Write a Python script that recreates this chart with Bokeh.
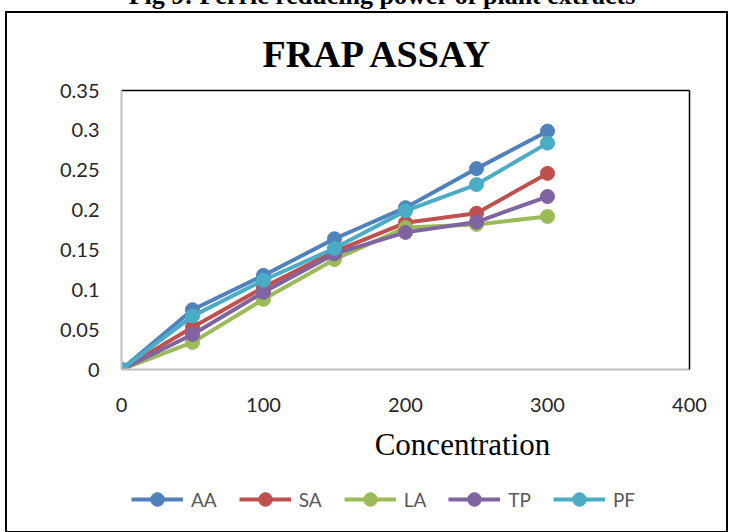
from bokeh.plotting import figure
from bokeh.models import (FixedTicker, CustomJSTickFormatter, Label,
                          Legend, LegendItem, Div, Range1d, LinearAxis)
from bokeh.layouts import column
from bokeh.embed import file_html
from bokeh.resources import INLINE

# ---- data ----
concentration = [0, 50, 100, 150, 200, 250, 300]
AA = [0, 0.075, 0.118, 0.164, 0.203, 0.252, 0.299]
SA = [0, 0.053, 0.103, 0.148, 0.184, 0.196, 0.246]
LA = [0, 0.034, 0.088, 0.138, 0.178, 0.182, 0.192]
TP = [0, 0.044, 0.097, 0.145, 0.172, 0.185, 0.217]
PF = [0, 0.067, 0.112, 0.152, 0.199, 0.232, 0.284]
series_names = ["AA", "SA", "LA", "TP", "PF"]
x_ticks = [0, 100, 200, 300, 400]
y_ticks = [0, 0.05, 0.1, 0.15, 0.2, 0.25, 0.3, 0.35]

chart_title = "FRAP ASSAY"
fig_caption = "Fig 9: Ferric reducing power of plant extracts"
x_label = "Concentration"
y_label = "Absorbance"

colors = {"AA": "#4F81BD", "SA": "#C0504D", "LA": "#9BBB59",
          "TP": "#8064A2", "PF": "#4BACC6"}
data = {"AA": AA, "SA": SA, "LA": LA, "TP": TP, "PF": PF}

SANS = "Lato"
SERIF = "Liberation Serif"
W, H = 719, 518

# ---------------- main chart ----------------
p = figure(width=W, height=H, output_backend="svg", toolbar_location=None,
           x_range=Range1d(0, 400), y_range=Range1d(0, 0.35),
           min_border_left=114, min_border_right=37,
           min_border_top=77, min_border_bottom=162)
p.styles = {"outline": "2px solid black", "margin-left": "7px"}
p.xgrid.visible = False
p.ygrid.visible = False
p.outline_line_color = None
p.background_fill_color = "white"
p.border_fill_color = "white"

for ax, ticks in ((p.xaxis[0], x_ticks), (p.yaxis[0], y_ticks)):
    ax.ticker = FixedTicker(ticks=ticks)
    ax.axis_line_color = "#BFBFBF"
    ax.axis_line_width = 2
    ax.major_tick_line_color = None
    ax.minor_tick_line_color = None
    ax.major_tick_out = 0
    ax.major_tick_in = 0
    ax.major_label_text_font = SANS
    ax.major_label_text_font_size = "20px"
    ax.major_label_text_color = "#262626"
p.xaxis[0].major_label_standoff = 28
p.yaxis[0].major_label_standoff = 22
p.yaxis[0].formatter = CustomJSTickFormatter(
    code="return String(parseFloat(tick.toFixed(2)));")

for loc in ("above", "right"):
    a = LinearAxis(ticker=FixedTicker(ticks=[]), axis_line_color="black",
                   axis_line_width=1.5, major_tick_line_color=None,
                   minor_tick_line_color=None, major_label_text_font_size="0px")
    p.add_layout(a, loc)

for name in series_names:
    c = colors[name]
    p.line(concentration, data[name], line_color=c, line_width=4)
    p.scatter(concentration, data[name], marker="circle", size=14,
              fill_color=c, line_color=c)

# ---------------- transparent overlay for titles + legend ----------------
# its view range lies away from the data, so its series only feed the legend
ov = figure(frame_width=W, frame_height=H, output_backend="svg",
            toolbar_location=None, x_axis_location=None, y_axis_location=None,
            min_border=0, min_border_left=0, min_border_right=0,
            min_border_top=0, min_border_bottom=0,
            x_range=Range1d(1000, 1001), y_range=Range1d(1000, 1001))
ov.styles = {"margin-left": "7px", "margin-top": f"-{H}px",
             "margin-bottom": "-8px"}
ov.xgrid.visible = False
ov.ygrid.visible = False
ov.outline_line_color = None
ov.background_fill_alpha = 0
ov.border_fill_alpha = 0

items = []
for name in series_names:
    c = colors[name]
    r1 = ov.line(concentration, data[name], line_color=c, line_width=4)
    r2 = ov.scatter(concentration, data[name], marker="circle", size=14,
                    fill_color=c, line_color=c)
    items.append(LegendItem(label=name, renderers=[r1, r2]))

legend = Legend(items=items, orientation="horizontal", location=(124, 15),
                glyph_width=52, glyph_height=34, label_height=34,
                label_standoff=8, spacing=22, padding=0, margin=0,
                border_line_color=None, background_fill_alpha=0,
                label_text_font=SANS, label_text_font_size="19px",
                label_text_color="#595959")
ov.add_layout(legend, "center")

ov.add_layout(Label(x=257, y=478, x_units="screen", y_units="screen",
                    text=chart_title, text_font=SERIF,
                    text_font_style="bold", text_font_size="38px",
                    text_align="center", text_baseline="middle",
                    text_color="black"))
ov.add_layout(Label(x=341, y=87, x_units="screen", y_units="screen",
                    text=x_label, text_font=SERIF,
                    text_font_size="31px", text_align="center",
                    text_baseline="middle", text_color="black"))
ov.add_layout(Label(x=-84, y=302, x_units="screen", y_units="screen",
                    text=y_label, text_font=SERIF, angle=1.5708,
                    text_font_size="31px", text_align="center",
                    text_baseline="middle", text_color="black"))

cap = Div(text=fig_caption, width=723, height=20,
          styles={"margin-top": "-12px", "font-family": "Liberation Serif",
                  "font-weight": "bold", "font-size": "26px",
                  "line-height": "16px", "text-align": "center",
                  "padding-left": "31px", "box-sizing": "border-box",
                  "color": "black"})

layout = column(cap, p, ov, spacing=0)
open("out.html", "w").write(file_html(layout, INLINE))
